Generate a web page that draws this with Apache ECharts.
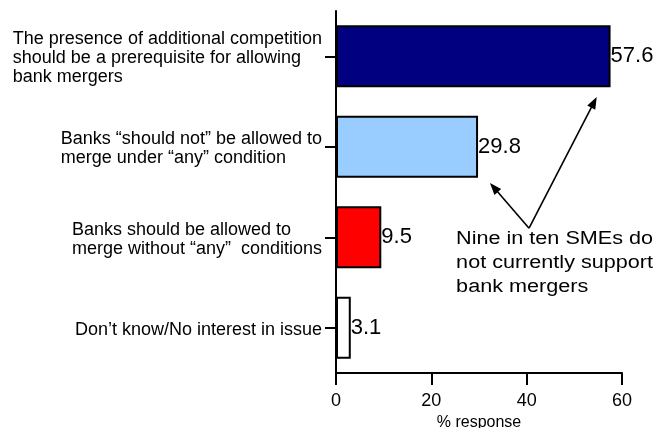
<!DOCTYPE html>
<html>
<head>
<meta charset="utf-8">
<script src="https://cdn.jsdelivr.net/npm/echarts@6/dist/echarts.min.js"></script>
<style>
  html, body { margin: 0; padding: 0; background: #fff; }
  #chart { width: 659px; height: 428px; }
</style>
</head>
<body>
<div id="chart"></div>
<script>
// Survey responses on bank mergers (% of SMEs)
const categories = [
  'The presence of additional competition\nshould be a prerequisite for allowing\nbank mergers',
  'Banks \u201cshould not\u201d be allowed to\nmerge under \u201cany\u201d condition',
  'Banks should be allowed to\nmerge without \u201cany\u201d  conditions',
  'Don\u2019t know/No interest in issue'
];
const values = [57.6, 29.8, 9.5, 3.1];
const barColors = ['#000080', '#99ccff', '#ff0000', '#ffffff'];
const xTicks = [0, 20, 40, 60];
const calloutText = 'Nine in ten SMEs do\nnot currently support\nbank mergers';

const FONT = '"Liberation Sans", Arial, sans-serif';

const chart = echarts.init(document.getElementById('chart'), null, { renderer: 'canvas' });

const option = {
  animation: false,
  backgroundColor: '#ffffff',
  grid: {
    left: 336, right: 37, top: 11, bottom: 55,
    containLabel: false,
    outerBoundsMode: 'none'
  },
  xAxis: {
    type: 'value',
    min: xTicks[0],
    max: xTicks[xTicks.length - 1],
    interval: xTicks[1] - xTicks[0],
    name: '% response',
    nameLocation: 'middle',
    nameGap: 40,
    nameTextStyle: { color: '#000', fontSize: 16, fontFamily: FONT },
    axisLine: { show: true, onZero: false, lineStyle: { color: '#000', width: 2 } },
    axisTick: { show: true, length: 12, lineStyle: { color: '#000', width: 2 } },
    axisLabel: { color: '#000', fontSize: 18, fontFamily: FONT, margin: 19 },
    splitLine: { show: false }
  },
  yAxis: {
    type: 'category',
    inverse: true,
    data: categories,
    axisLine: { show: true, lineStyle: { color: '#000', width: 2 } },
    axisTick: { show: true, alignWithLabel: true, length: 11, lineStyle: { color: '#000', width: 2 } },
    axisLabel: {
      margin: 14,
      formatter: (v) => v.split('\n').map(s => '{t|' + s + '}').join('\n'),
      rich: {
        t: { color: '#000', fontSize: 18, fontFamily: FONT, lineHeight: 19, align: 'left' }
      },
      padding: [4, 0, 0, 0]
    }
  },
  series: [{
    type: 'bar',
    barWidth: 62,
    data: values.map((v, i) => ({
      value: v,
      itemStyle: { color: barColors[i] }
    })),
    itemStyle: { borderColor: '#000', borderWidth: 2 },
    label: {
      show: true,
      position: 'right',
      distance: 0,
      color: '#000',
      fontSize: 22,
      fontFamily: FONT
    }
  }]
};

chart.setOption(option);

// Callout: text and two arrows pointing at the first two bars
function px(xVal, catPos) {
  const i = Math.floor(catPos);
  const f = catPos - i;
  const y0 = chart.convertToPixel({ yAxisIndex: 0 }, i);
  const y1 = chart.convertToPixel({ yAxisIndex: 0 }, i + 1);
  return [chart.convertToPixel({ xAxisIndex: 0 }, xVal), y0 + (y1 - y0) * f];
}

function arrow(from, to) {
  const dx = to[0] - from[0], dy = to[1] - from[1];
  const len = Math.sqrt(dx * dx + dy * dy);
  const ux = dx / len, uy = dy / len;
  const head = 12, half = 4.5;
  const bx = to[0] - ux * head, by = to[1] - uy * head;
  return [
    { type: 'line', shape: { x1: from[0], y1: from[1], x2: bx + ux * 2, y2: by + uy * 2 },
      style: { stroke: '#000', lineWidth: 1.6 } },
    { type: 'polygon', shape: { points: [
        [to[0], to[1]],
        [bx - uy * half, by + ux * half],
        [bx + uy * half, by - ux * half]
      ] }, style: { fill: '#000' } }
  ];
}

const vertex = px(40.5, 1.9);
const tipTop = px(54.7, 0.45);
const tipLow = px(32.3, 1.4);
const textPos = px(25.2, 1.89);

chart.setOption({
  graphic: [
    ...arrow(vertex, tipTop),
    ...arrow(vertex, tipLow),
    {
      type: 'text',
      x: textPos[0],
      y: textPos[1],
      scaleX: 1.2,
      style: {
        text: calloutText,
        fill: '#000',
        font: '18px ' + FONT,
        lineHeight: 24,
        textAlign: 'left',
        textVerticalAlign: 'top'
      }
    }
  ]
});
</script>
</body>
</html>
